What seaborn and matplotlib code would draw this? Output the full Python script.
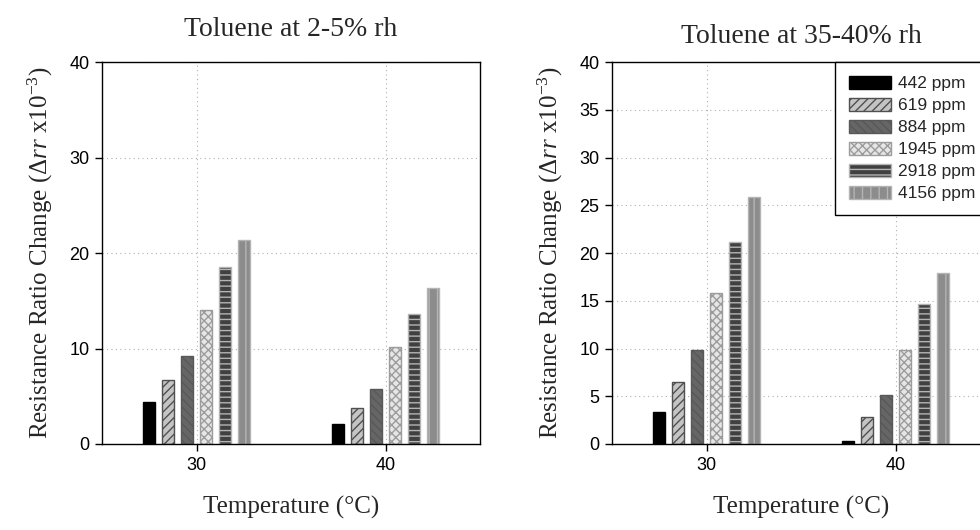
import pandas as pd
import seaborn as sns
import matplotlib.pyplot as plt

# Resistance ratio change (x10^-3)
temps = ['30', '40']
concs = ['442 ppm', '619 ppm', '884 ppm', '1945 ppm', '2918 ppm', '4156 ppm']
dry_30 = [4.45, 6.7, 9.2, 14.05, 18.55, 21.35]
dry_40 = [2.1, 3.8, 5.8, 10.15, 13.6, 16.3]
humid_30 = [3.35, 6.5, 9.8, 15.8, 21.2, 25.85]
humid_40 = [0.35, 2.85, 5.1, 9.85, 14.65, 17.9]

fills = ['#000000', '#c4c4c4', '#666666', '#e6e6e6', '#404040', '#8c8c8c']
edges = ['#000000', '#505050', '#585858', '#9c9c9c', '#b4b4b4', '#b4b4b4']
hatches = ['', '////', '\\\\\\\\', 'xxxx', '---', '||']


def make_frame(vals_30, vals_40):
    rows = []
    for temp, vals in zip(temps, [vals_30, vals_40]):
        for conc, v in zip(concs, vals):
            rows.append({'temp': temp, 'conc': conc, 'value': v})
    return pd.DataFrame(rows)


sns.set_style('ticks')
plt.rcParams['font.family'] = ['Liberation Sans', 'DejaVu Sans']
plt.rcParams['mathtext.fontset'] = 'custom'
plt.rcParams['mathtext.rm'] = 'Liberation Serif'
plt.rcParams['mathtext.it'] = 'Liberation Serif:italic'
plt.rcParams['hatch.linewidth'] = 1.0

fig = plt.figure(figsize=(9.8, 5.3), dpi=100)
ax1 = fig.add_axes([102 / 980, 86 / 530, 378 / 980, 382 / 530])
ax2 = fig.add_axes([612 / 980, 86 / 530, 378 / 980, 382 / 530])

panels = [
    (ax1, make_frame(dry_30, dry_40), 'Toluene at 2-5% rh', range(0, 41, 10), 19),
    (ax2, make_frame(humid_30, humid_40), 'Toluene at 35-40% rh', range(0, 41, 5), 14),
]

for ax, df, title, yticks, tpad in panels:
    sns.barplot(data=df, x='temp', y='value', hue='conc', hue_order=concs,
                palette=fills, width=0.6, gap=0.34, errorbar=None,
                legend=False, ax=ax)
    for cont, h, ec in zip(ax.containers, hatches, edges):
        for bar in cont:
            bar.set_hatch(h)
            bar.set_edgecolor(ec)
            bar.set_linewidth(1.0)

    ax.set_xlim(-0.5, 1.5)
    ax.set_ylim(0, 40)
    ax.set_yticks(list(yticks))
    ax.set_axisbelow(True)
    ax.grid(True, linestyle=(0, (1, 3)), color='#b0b0b0', linewidth=0.8)
    for side in ['left', 'right', 'top', 'bottom']:
        ax.spines[side].set_visible(True)
        ax.spines[side].set_color('black')
        ax.spines[side].set_linewidth(1.0)
    ax.tick_params(direction='out', length=5, width=1, labelsize=13,
                   colors='black', pad=4)

    ax.set_title(title, fontsize=20, fontfamily='Liberation Serif', pad=tpad)
    ax.set_xlabel('Temperature (\u00b0C)', fontsize=18,
                  fontfamily='Liberation Serif', labelpad=16)
    ax.set_ylabel(r'Resistance Ratio Change ($\Delta rr$ x10$^{-3}$)',
                  fontsize=18, fontfamily='Liberation Serif', labelpad=10)

leg = ax2.legend(ax2.containers, concs, loc='upper left',
                 bbox_to_anchor=(835 / 980, 1 - 62 / 530),
                 bbox_transform=fig.transFigure, borderaxespad=0,
                 fontsize=12.5, handlelength=2.4, handleheight=0.75,
                 handletextpad=0.45, labelspacing=0.38, borderpad=0.8,
                 fancybox=False, framealpha=1, edgecolor='black')
leg.get_frame().set_linewidth(1.0)

fig.savefig('out.png', dpi=100)
